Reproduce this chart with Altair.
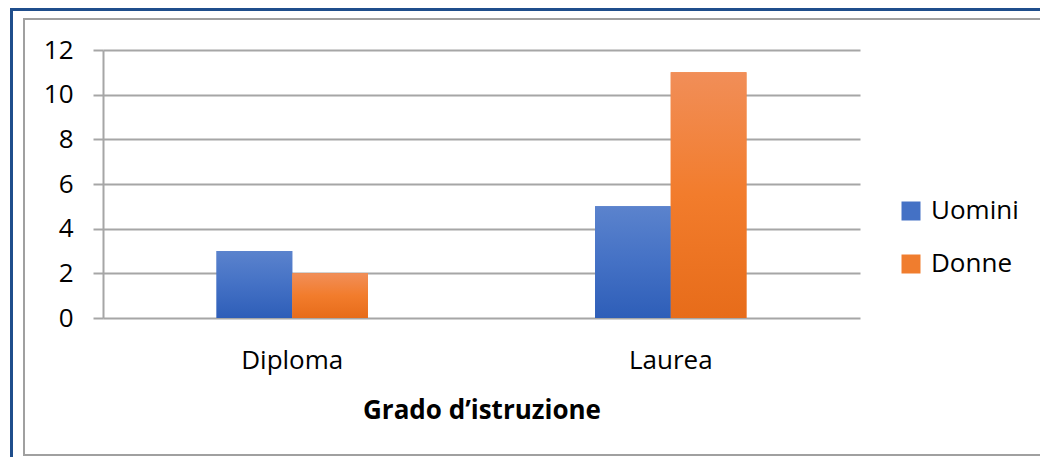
import altair as alt
import pandas as pd

# ---- data ----
categories = ["Diploma", "Laurea"]
series = ["Uomini", "Donne"]
uomini = [3, 5]
donne = [2, 11]
y_ticks = [0, 2, 4, 6, 8, 10, 12]

rows = []
for i, c in enumerate(categories):
    rows.append({"grado": c, "sesso": "Uomini", "valore": uomini[i]})
    rows.append({"grado": c, "sesso": "Donne", "valore": donne[i]})
df = pd.DataFrame(rows)

FONT = "Open Sans"
GRID = "#a6a6a6"

grad_u = {"gradient": "linear", "x1": 0, "y1": 0, "x2": 0, "y2": 1,
          "stops": [{"offset": 0, "color": "#5b83cd"},
                    {"offset": 0.5, "color": "#4471c5"},
                    {"offset": 1, "color": "#2e5eb8"}]}
grad_d = {"gradient": "linear", "x1": 0, "y1": 0, "x2": 0, "y2": 1,
          "stops": [{"offset": 0, "color": "#f18e58"},
                    {"offset": 0.5, "color": "#f27c2c"},
                    {"offset": 1, "color": "#e76c1a"}]}

x_enc = alt.X(
    "grado:N", sort=categories,
    scale=alt.Scale(paddingInner=0.6, paddingOuter=0.3),
    axis=alt.Axis(
        title="Grado d’istruzione", domain=False, ticks=False, tickSize=0,
        labelFont=FONT, labelFontSize=26, labelColor="#000000",
        labelBaseline="alphabetic", labelPadding=50, labelAngle=0,
        titleFont=FONT, titleFontSize=26, titleFontWeight="bold",
        titleColor="#000000", titleY=100, titleBaseline="alphabetic",
    ),
)
xo_enc = alt.XOffset("sesso:N", sort=series,
                     scale=alt.Scale(paddingInner=0, paddingOuter=0))
y_enc = alt.Y(
    "valore:Q",
    scale=alt.Scale(domain=[0, 12], nice=False),
    axis=alt.Axis(
        title=None, values=y_ticks, grid=True, gridColor=GRID, gridWidth=2,
        domainColor=GRID, domainWidth=2, tickColor=GRID, tickWidth=2,
        tickSize=10, labelFont=FONT, labelFontSize=26, labelColor="#000000",
        labelPadding=20,
    ),
)

base = alt.Chart(df)

solid = base.mark_bar().encode(
    x=x_enc, xOffset=xo_enc, y=y_enc,
    color=alt.Color(
        "sesso:N", sort=series,
        scale=alt.Scale(domain=series, range=["#4471c5", "#f07d2e"]),
        legend=alt.Legend(
            title=None, orient="none", legendX=795, legendY=148,
            symbolType="square", symbolSize=361, symbolStrokeWidth=0,
            labelFont=FONT, labelFontSize=26, labelColor="#000000",
            labelOffset=7, rowPadding=27, padding=0,
        ),
    ),
)

gradient = base.mark_bar().encode(
    x=x_enc, xOffset=xo_enc, y=y_enc,
    color=alt.condition(alt.datum.sesso == "Uomini", alt.value(grad_u), alt.value(grad_d)),
)

frame_df = pd.DataFrame({"f": [0]})
outer = alt.Chart(frame_df).mark_rect(fillOpacity=0, stroke="#1f4e8c", strokeWidth=3).encode(
    x=alt.value(-91.5), x2=alt.value(3000), y=alt.value(-40.5), y2=alt.value(3000)
)
inner = alt.Chart(frame_df).mark_rect(fillOpacity=0, stroke="#a0a0a0", strokeWidth=2).encode(
    x=alt.value(-79), x2=alt.value(3000), y=alt.value(-31), y2=alt.value(405)
)

chart = alt.layer(outer, inner, solid, gradient).properties(
    width=757, height=268,
    autosize=alt.AutoSizeParams(type="none"),
    padding={"left": 95, "top": 42, "right": 180, "bottom": 139},
    background="#ffffff",
).configure_view(strokeWidth=0)

chart.save("out.html", embed_options={"renderer": "svg", "actions": False})
